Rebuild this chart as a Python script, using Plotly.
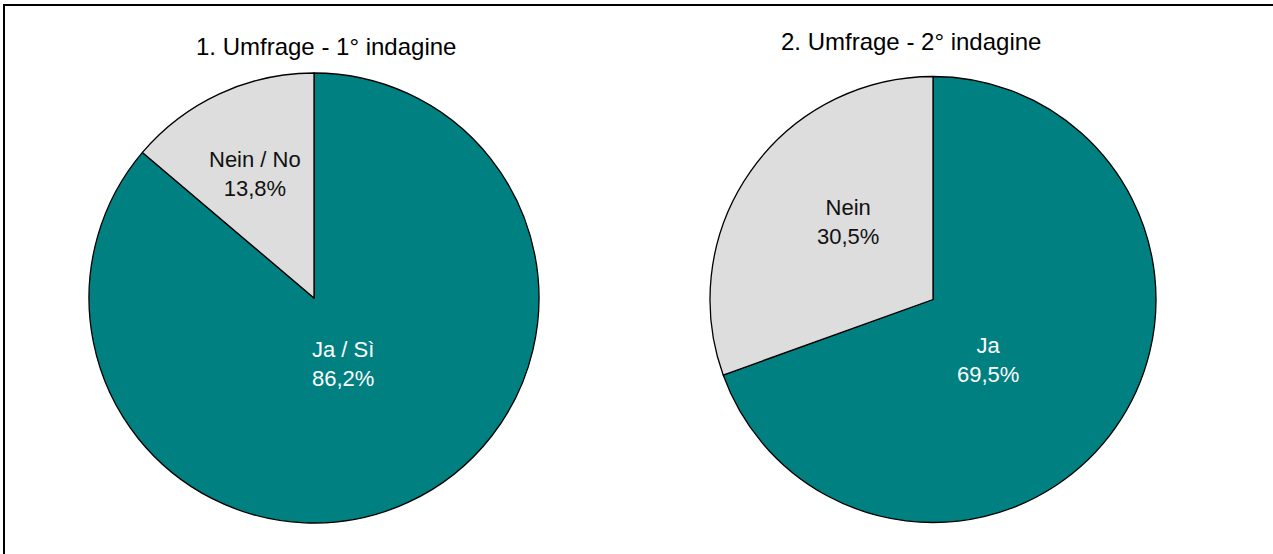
import math
import plotly.graph_objects as go

W, H = 1273, 554

survey1_labels = ["Ja / Sì", "Nein / No"]
survey1_values = [86.2, 13.8]
survey2_labels = ["Ja", "Nein"]
survey2_values = [69.5, 30.5]
titles = ["1. Umfrage - 1° indagine", "2. Umfrage - 2° indagine"]

teal = "#008080"
grey = "#DDDDDD"
FONT = "Liberation Sans, Arial, sans-serif"


def px_x(v):
    return v / W


def px_y(v):
    return 1 - v / H


fig = go.Figure()

# label placement style: (radius fraction, angular shift in degrees) per slice
pies = [
    dict(labels=survey1_labels, values=survey1_values, cx=314, cy=298, r=225,
         place=[(0.32, 1.0), (0.61, -0.8)], title=titles[0], tx=326, ty=47),
    dict(labels=survey2_labels, values=survey2_values, cx=933, cy=299.5, r=223,
         place=[(0.367, 12.6), (0.516, 7.3)], title=titles[1], tx=911, ty=42),
]
text_colors = ["white", "#111111"]

for p in pies:
    fig.add_trace(go.Pie(
        labels=p["labels"], values=p["values"],
        sort=False, direction="clockwise", rotation=0,
        marker=dict(colors=[teal, grey], line=dict(color="black", width=1.3)),
        textinfo="none",
        domain=dict(x=[px_x(p["cx"] - p["r"]), px_x(p["cx"] + p["r"])],
                    y=[px_y(p["cy"] + p["r"]), px_y(p["cy"] - p["r"])]),
        showlegend=False, hoverinfo="label+percent",
    ))
    total = sum(p["values"])
    cum = 0.0
    for i, (lab, val) in enumerate(zip(p["labels"], p["values"])):
        frac, shift = p["place"][i]
        mid = (cum + val / 2) / total * 2 * math.pi + math.radians(shift)
        cum += val
        rr = p["r"] * frac
        x = p["cx"] + rr * math.sin(mid)
        y = p["cy"] - rr * math.cos(mid)
        pct = f"{val / total * 100:.1f}".replace(".", ",") + "%"
        fig.add_annotation(text=f"{lab}<br>{pct}", x=px_x(x), y=px_y(y),
                           xref="paper", yref="paper", showarrow=False,
                           xanchor="center", yanchor="middle",
                           font=dict(family=FONT, size=22, color=text_colors[i]))
    fig.add_annotation(text=p["title"], x=px_x(p["tx"]), y=px_y(p["ty"]),
                       xref="paper", yref="paper", showarrow=False,
                       xanchor="center", yanchor="middle",
                       font=dict(family=FONT, size=24, color="black"))

fig.add_shape(type="rect", xref="paper", yref="paper",
              x0=px_x(4), x1=px_x(1290), y0=px_y(570), y1=px_y(5),
              line=dict(color="black", width=2), fillcolor="rgba(0,0,0,0)")

fig.update_layout(
    width=W, height=H, autosize=False,
    margin=dict(l=0, r=0, t=0, b=0),
    paper_bgcolor="white", plot_bgcolor="white",
    separators=",.",
)

fig.write_html("out.html", config={"displayModeBar": False},
               post_script="document.body.style.margin='0px';document.body.style.overflow='hidden';")
